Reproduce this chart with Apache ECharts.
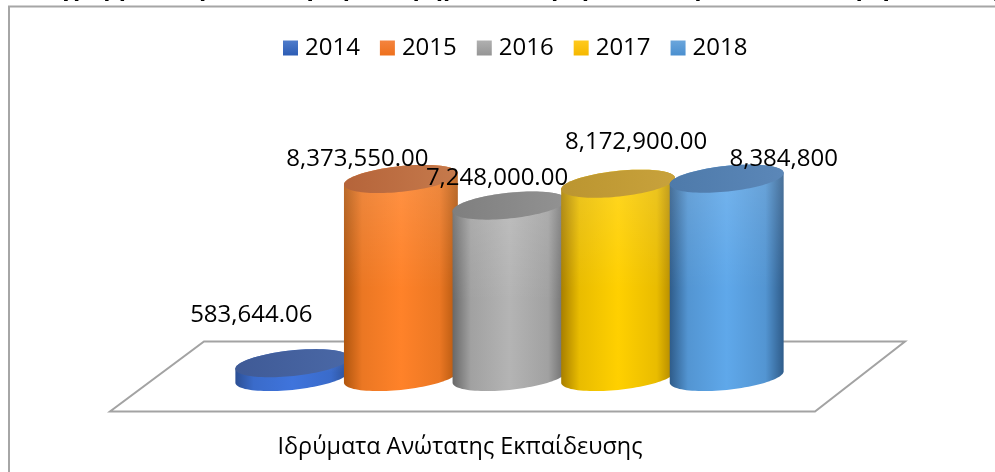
<!DOCTYPE html>
<html>
<head>
<meta charset="utf-8">
<style>html,body{margin:0;padding:0;background:#fff}#c{width:995px;height:472px}</style>
<script src="https://cdn.jsdelivr.net/npm/echarts@6/dist/echarts.min.js"></script>
</head>
<body>
<div id="c"></div>
<script>
const chartTitle = 'Διάγραμμα 5: Προϋπολογισμός, Χρηματοδότηση Ανώτατης Εκπαίδευσης για τα έτη 2014 - 2018';
const categories = ['Ιδρύματα Ανώτατης Εκπαίδευσης'];
const years = ['2014', '2015', '2016', '2017', '2018'];
const values = [583644.06, 8373550.00, 7248000.00, 8172900.00, 8384800];
const valueLabels = ['583,644.06', '8,373,550.00', '7,248,000.00', '8,172,900.00', '8,384,800'];

// styling, one entry per year
const edgeColors = ['#2c4f94', '#b0560f', '#686868', '#a87f00', '#2f5c8a'];
const centreColors = ['#3f74dc', '#ff8229', '#b4b4b4', '#ffd000', '#5fa8ea'];
const lidLeft = ['#3f5a96', '#b5643a', '#7f7f7f', '#bb9530', '#4e7aaa'];
const lidRight = ['#4a68a6', '#c67a4c', '#929292', '#c8a23c', '#5b87b8'];
const legendTop = ['#4f7ccb', '#f4843f', '#b0b0b0', '#ffca1e', '#6ba6dc'];
const legendBottom = ['#2c5cb4', '#ee701c', '#959595', '#f5b800', '#4a8fcf'];
// label anchor relative to the top of each cylinder, in px
const labelDx = [-41, -43.5, -12.5, 18, 57];
const labelDy = [-48, -20, -27, -42, -20];

const G = echarts.graphic;
const tilt = 6 * Math.PI / 180;
const cosT = Math.cos(tilt), sinT = Math.sin(tilt);

function ell(g, cy, t) {
  return [
    g.cx + g.a * Math.cos(t) * cosT + g.b * Math.sin(t) * sinT,
    cy - g.a * Math.cos(t) * sinT + g.b * Math.sin(t) * cosT
  ];
}
function renderCylinder(i) {
  return function (params, api) {
    const base = api.coord([0, 0]);
    const top = api.coord([0, api.value(1)]);
    const step = api.size([1, 0])[0] / years.length;
    const g = { cx: base[0] + (i - 2) * step, a: step * 0.527, b: step * 0.118 };
    const t0 = Math.atan2(g.b * sinT, g.a * cosT);
    const side = [], lid = [];
    const N = 48;
    for (let k = 0; k <= N; k++) side.push(ell(g, top[1], t0 - Math.PI * k / N));
    for (let k = 0; k <= N; k++) side.push(ell(g, base[1], t0 + Math.PI - Math.PI * k / N));
    for (let k = 0; k < 2 * N; k++) lid.push(ell(g, top[1], Math.PI * k / N));
    const mid = echarts.color.lerp(0.75, [edgeColors[i], centreColors[i]]);
    const sideFill = new G.LinearGradient(0, 0, 1, 0, [
      { offset: 0, color: edgeColors[i] },
      { offset: 0.16, color: mid },
      { offset: 0.5, color: centreColors[i] },
      { offset: 0.84, color: mid },
      { offset: 1, color: edgeColors[i] }
    ]);
    const shine = new G.LinearGradient(0, 0, 0, 1, [
      { offset: 0, color: 'rgba(255,255,255,0.14)' },
      { offset: 0.55, color: 'rgba(255,255,255,0)' },
      { offset: 1, color: 'rgba(255,255,255,0)' }
    ]);
    const lidFill = new G.LinearGradient(0, 0, 1, 0, [
      { offset: 0, color: lidLeft[i] },
      { offset: 1, color: lidRight[i] }
    ]);
    return {
      type: 'group',
      children: [
        { type: 'polygon', shape: { points: side }, style: { fill: sideFill } },
        { type: 'polygon', shape: { points: side }, style: { fill: shine } },
        { type: 'polygon', shape: { points: lid }, style: { fill: lidFill } }
      ]
    };
  };
}
function renderLabel(params, api) {
  const i = api.value(0);
  const base = api.coord([0, 0]);
  const top = api.coord([0, api.value(2)]);
  const step = api.size([1, 0])[0] / years.length;
  return {
    type: 'text',
    x: base[0] + (i - 2) * step + labelDx[i],
    y: top[1] + labelDy[i],
    style: {
      text: valueLabels[i],
      fill: '#000',
      font: '24px "Open Sans"',
      align: 'center',
      verticalAlign: 'middle'
    }
  };
}

const series = years.map((y, i) => ({
  type: 'custom',
  name: y,
  coordinateSystem: 'cartesian2d',
  renderItem: renderCylinder(i),
  encode: { x: 0, y: 1 },
  data: [[categories[0], values[i]]],
  itemStyle: { color: centreColors[i] },
  z: 2
}));
series.push({
  type: 'custom',
  name: 'labels',
  coordinateSystem: 'cartesian2d',
  renderItem: renderLabel,
  encode: { x: 1, y: 2 },
  data: values.map((v, i) => [i, categories[0], v]),
  silent: true,
  z: 5
});

const chart = echarts.init(document.getElementById('c'), null, { renderer: 'canvas' });
chart.setOption({
  animation: false,
  backgroundColor: '#fff',
  title: {
    text: chartTitle,
    left: 20,
    top: -25,
    padding: 0,
    textStyle: { fontFamily: 'Open Sans', fontSize: 23.5, fontWeight: 'bold', color: '#000', lineHeight: 26 }
  },
  legend: {
    data: years.map((y, i) => ({
      name: y,
      itemStyle: {
        color: new G.LinearGradient(0, 0, 0, 1, [
          { offset: 0, color: legendTop[i] },
          { offset: 1, color: legendBottom[i] }
        ])
      }
    })),
    left: 283,
    top: 36,
    padding: 0,
    icon: 'rect',
    itemWidth: 15,
    itemHeight: 15,
    itemGap: 20,
    textStyle: { fontFamily: 'Open Sans', fontSize: 24, color: '#000', padding: [0, 0, 0, 2] }
  },
  grid: { left: 238, right: 214, top: 140.5, bottom: 95, containLabel: false },
  xAxis: {
    type: 'category',
    data: categories,
    axisLine: { show: false },
    axisTick: { show: false },
    axisLabel: {
      show: true,
      interval: 0,
      margin: 59,
      width: 500,
      overflow: 'none',
      padding: [0, 99, 0, 0],
      fontFamily: 'Open Sans',
      fontSize: 23.4,
      color: '#000'
    }
  },
  yAxis: { type: 'value', min: 0, max: 10000000, show: false },
  graphic: [
    {
      type: 'polyline',
      z: -1,
      silent: true,
      shape: { points: [[9, 472], [9, 6.5], [995, 6.5]] },
      style: { stroke: '#a6a6a6', lineWidth: 2, fill: null }
    },
    {
      type: 'polygon',
      z: -1,
      silent: true,
      shape: { points: [[110, 411.5], [815, 411.5], [905, 341.5], [204, 341.5]] },
      style: { stroke: '#a3a3a3', lineWidth: 2, fill: '#fff' }
    }
  ],
  series: series
});
</script>
</body>
</html>
